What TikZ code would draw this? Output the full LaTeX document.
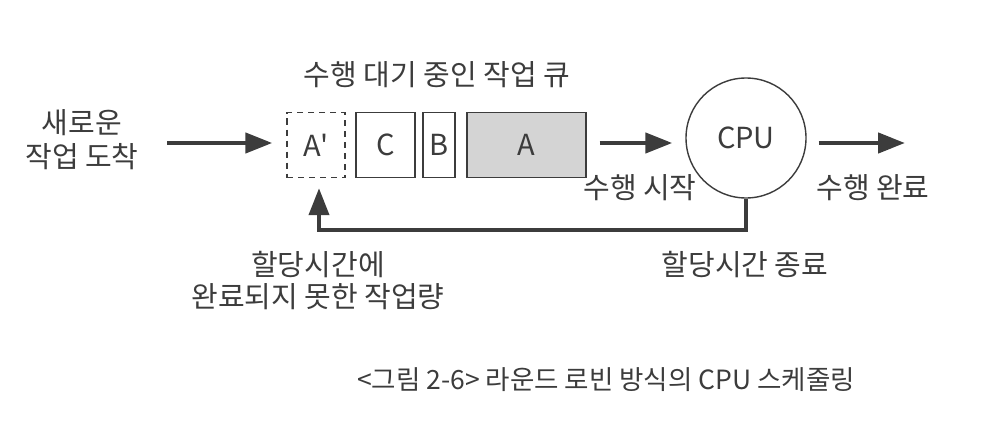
\documentclass[tikz,border=0pt]{standalone}
\usepackage{fontspec}
\setmainfont{Noto Sans CJK KR}
\usetikzlibrary{arrows.meta}
\definecolor{ink}{HTML}{3C3C3C}
\definecolor{queuegray}{HTML}{D4D4D4}
\tikzset{
  jobbox/.style={draw=ink,line width=1.4pt,minimum height=65pt,inner sep=0pt},
  flow/.style={draw=ink,line width=4.5pt,-{Triangle[length=27pt,width=20pt]}},
  lbl/.style={text=ink,align=center,inner sep=0pt}
}
\begin{document}
\begin{tikzpicture}[x=1pt,y=-1pt,font=\fontsize{29}{34}\selectfont]
      \useasboundingbox (0,0) rectangle (994,436);
      \node[lbl] (title) at (437,75) {수행 대기 중인 작업 큐};
      \node[lbl] (arrive) at (82,140) {새로운\\작업 도착};
      \node[jobbox,text=ink,dashed,dash pattern=on 6pt off 5pt,minimum width=58pt] (Aprime) at (316,145) {A\textquotesingle};
      \node[jobbox,text=ink,minimum width=59pt] (C) at (385.5,145) {C};
      \node[jobbox,text=ink,minimum width=32pt] (B) at (439,145) {B};
      \node[jobbox,text=ink,fill=queuegray,minimum width=119pt] (A) at (526.5,145) {A};
      \node[draw=ink,text=ink,line width=1.4pt,circle,minimum size=120pt,inner sep=0pt] (cpu) at (746,138) {CPU};
      \node[lbl] (start) at (640,188) {수행 시작};
      \node[lbl] (done) at (873,188) {수행 완료};
      \node[lbl] (expire) at (745,265) {할당시간 종료};
      \node[lbl,font=\fontsize{29}{32}\selectfont] (remain) at (318,281) {할당시간에\\완료되지 못한 작업량};
      \node[lbl,font=\fontsize{26.5}{30}\selectfont] (caption) at (606,380) {<그림 2-6> 라운드 로빈 방식의 CPU 스케줄링};
      \coordinate (inflow) at (167,143);
      \coordinate (outflow) at (905,143);
      \draw[flow,shorten >=14pt] (inflow) -- (Aprime.west |- inflow);
      \draw[flow,shorten <=13pt,shorten >=13pt] (A.east |- inflow) -- (cpu.west |- inflow);
      \draw[flow,shorten <=12pt] (cpu.east |- inflow) -- (outflow);
      \draw[flow,line width=4pt] (cpu.south) -- ++(0,31) -| ([xshift=3pt,yshift=-10pt]Aprime.south);
    \end{tikzpicture}
\end{document}
